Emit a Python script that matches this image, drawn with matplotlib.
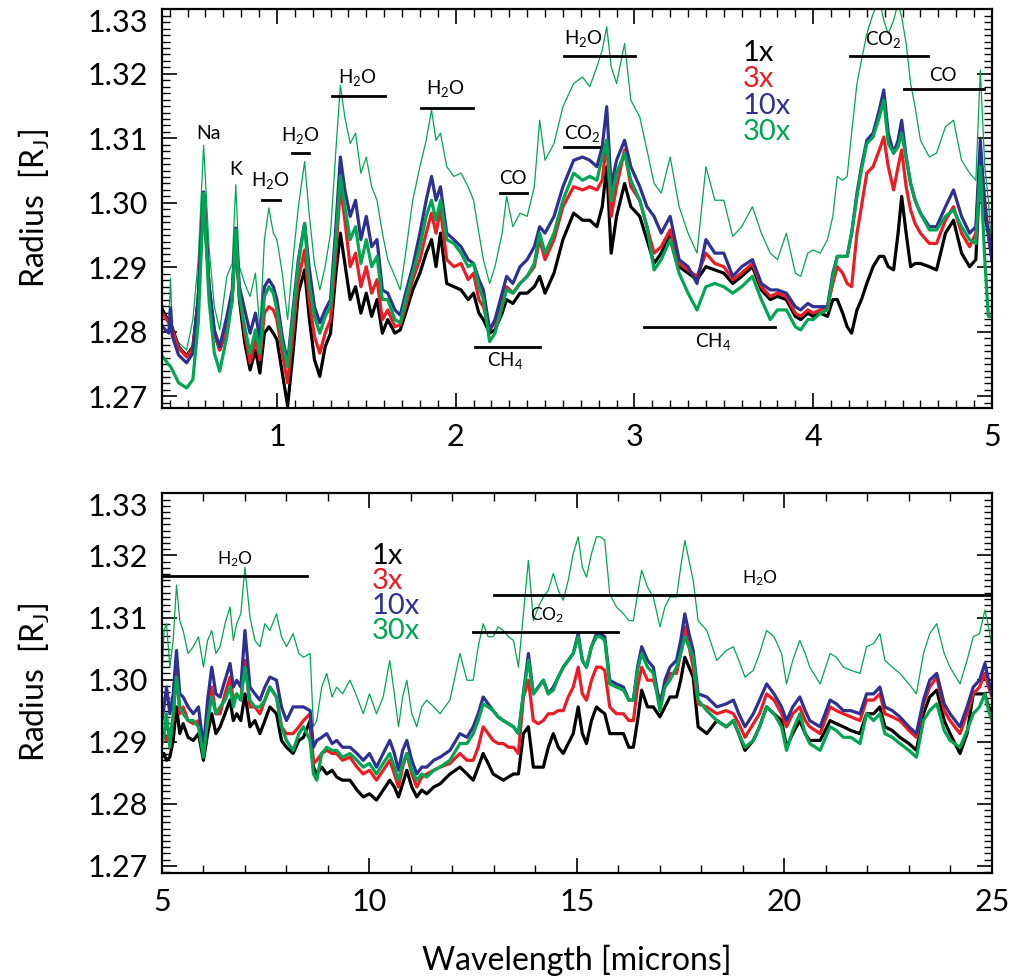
import matplotlib
matplotlib.use("Agg")
import matplotlib.pyplot as plt
from matplotlib.ticker import MultipleLocator, FormatStrFormatter

plt.rcParams['font.family'] = ['Lato', 'DejaVu Sans']
plt.rcParams['mathtext.default'] = 'regular'

# ---- top panel: 0.35 - 5 microns ----
x_top = [0.36, 0.395, 0.405, 0.415, 0.45, 0.495, 0.53, 0.56, 0.59, 0.62,
         0.65, 0.68, 0.72, 0.75, 0.77, 0.79, 0.82, 0.85, 0.88, 0.905,
         0.93, 0.955, 0.98, 1.00, 1.03, 1.06, 1.09, 1.12, 1.155, 1.18,
         1.21, 1.24, 1.27, 1.30, 1.33, 1.355, 1.38, 1.41, 1.44, 1.47,
         1.50, 1.53, 1.56, 1.59, 1.62, 1.66, 1.69, 1.72, 1.76, 1.80,
         1.835, 1.865, 1.89, 1.915, 1.95, 1.99, 2.03, 2.07, 2.10, 2.13,
         2.155, 2.19, 2.22, 2.26, 2.285, 2.32, 2.36, 2.40, 2.44, 2.47,
         2.50, 2.55, 2.60, 2.66, 2.71, 2.75, 2.79, 2.82, 2.845, 2.87,
         2.90, 2.945, 2.98, 3.03, 3.07, 3.11, 3.15, 3.20, 3.25, 3.30,
         3.35, 3.40, 3.45, 3.50, 3.55, 3.60, 3.66, 3.71, 3.76, 3.80,
         3.85, 3.90, 3.93, 3.97, 4.00, 4.04, 4.08, 4.11, 4.135, 4.165,
         4.19, 4.215, 4.245, 4.27, 4.30, 4.335, 4.37, 4.395, 4.42, 4.45,
         4.475, 4.495, 4.52, 4.545, 4.57, 4.60, 4.65, 4.69, 4.74, 4.785,
         4.83, 4.875, 4.91, 4.935, 4.96, 4.98, 5.00]

k_top = [1.2834, 1.2816, 1.2814, 1.2806, 1.2777, 1.2763, 1.2777, 1.2850, 1.3015, 1.2870,
         1.2798, 1.2772, 1.2803, 1.2850, 1.2953, 1.2850, 1.2783, 1.2741, 1.2772, 1.2736,
         1.2798, 1.2808, 1.2798, 1.2788, 1.2736, 1.2685, 1.2767, 1.2860, 1.2896, 1.2824,
         1.2757, 1.2731, 1.2777, 1.2798, 1.2891, 1.2953, 1.2906, 1.2850, 1.2870, 1.2829,
         1.2860, 1.2824, 1.2850, 1.2798, 1.2819, 1.2798, 1.2803, 1.2829, 1.2865, 1.2891,
         1.2922, 1.2943, 1.2901, 1.2953, 1.2875, 1.2870, 1.2865, 1.2850, 1.2860, 1.2829,
         1.2819, 1.2798, 1.2803, 1.2829, 1.2850, 1.2844, 1.2860, 1.2860, 1.2870, 1.2886,
         1.2860, 1.2891, 1.2943, 1.2984, 1.2973, 1.2973, 1.2963, 1.2994, 1.3056, 1.2922,
         1.2979, 1.3030, 1.2994, 1.2979, 1.2943, 1.2906, 1.2922, 1.2953, 1.2901, 1.2891,
         1.2881, 1.2901, 1.2896, 1.2891, 1.2875, 1.2886, 1.2901, 1.2865, 1.2850, 1.2855,
         1.2850, 1.2824, 1.2819, 1.2829, 1.2824, 1.2829, 1.2824, 1.2850, 1.2850, 1.2829,
         1.2808, 1.2798, 1.2834, 1.2850, 1.2875, 1.2901, 1.2917, 1.2917, 1.2901, 1.2896,
         1.2953, 1.3010, 1.2953, 1.2901, 1.2906, 1.2906, 1.2901, 1.2896, 1.2953, 1.2973,
         1.2922, 1.2901, 1.2912, 1.3066, 1.2979, 1.2953, 1.2912]

r_top = [1.2829, 1.2814, 1.2811, 1.2803, 1.2775, 1.2761, 1.2775, 1.2850, 1.3015, 1.2870,
         1.2798, 1.2772, 1.2806, 1.2855, 1.2953, 1.2860, 1.2798, 1.2752, 1.2788, 1.2757,
         1.2829, 1.2839, 1.2834, 1.2819, 1.2767, 1.2721, 1.2798, 1.2881, 1.2927, 1.2850,
         1.2793, 1.2767, 1.2798, 1.2819, 1.2922, 1.3025, 1.2973, 1.2901, 1.2922, 1.2870,
         1.2901, 1.2860, 1.2881, 1.2819, 1.2834, 1.2808, 1.2811, 1.2839, 1.2881, 1.2912,
         1.2953, 1.2984, 1.2953, 1.2989, 1.2912, 1.2901, 1.2906, 1.2881, 1.2891, 1.2850,
         1.2839, 1.2803, 1.2814, 1.2844, 1.2870, 1.2860, 1.2875, 1.2886, 1.2901, 1.2943,
         1.2912, 1.2943, 1.2994, 1.3025, 1.3020, 1.3025, 1.3020, 1.3035, 1.3097, 1.2979,
         1.3025, 1.3082, 1.3025, 1.3004, 1.2963, 1.2922, 1.2932, 1.2958, 1.2906, 1.2896,
         1.2886, 1.2922, 1.2906, 1.2901, 1.2881, 1.2891, 1.2906, 1.2870, 1.2855, 1.2860,
         1.2855, 1.2829, 1.2824, 1.2834, 1.2829, 1.2834, 1.2839, 1.2875, 1.2901, 1.2891,
         1.2875, 1.2870, 1.2953, 1.2994, 1.3046, 1.3056, 1.3082, 1.3102, 1.3056, 1.3020,
         1.3056, 1.3082, 1.3025, 1.2989, 1.2968, 1.2953, 1.2937, 1.2937, 1.2973, 1.2994,
         1.2953, 1.2932, 1.2953, 1.3077, 1.3004, 1.2953, 1.2912]

b_top = [1.2808, 1.2798, 1.2837, 1.2793, 1.2764, 1.2752, 1.2767, 1.2855, 1.3017, 1.2875,
         1.2803, 1.2777, 1.2824, 1.2865, 1.2961, 1.2870, 1.2834, 1.2798, 1.2829, 1.2788,
         1.2870, 1.2881, 1.2870, 1.2850, 1.2793, 1.2752, 1.2834, 1.2912, 1.2968, 1.2901,
         1.2839, 1.2814, 1.2834, 1.2850, 1.2963, 1.3071, 1.3020, 1.2979, 1.3004, 1.2943,
         1.2979, 1.2932, 1.2943, 1.2865, 1.2860, 1.2834, 1.2826, 1.2860, 1.2901, 1.2953,
         1.3004, 1.3041, 1.3004, 1.3025, 1.2953, 1.2943, 1.2932, 1.2912, 1.2906, 1.2881,
         1.2865, 1.2803, 1.2819, 1.2860, 1.2886, 1.2875, 1.2901, 1.2912, 1.2932, 1.2963,
         1.2953, 1.2979, 1.3025, 1.3066, 1.3071, 1.3066, 1.3056, 1.3087, 1.3149, 1.3025,
         1.3066, 1.3097, 1.3056, 1.3025, 1.2994, 1.2979, 1.2953, 1.2979, 1.2912, 1.2901,
         1.2875, 1.2943, 1.2922, 1.2922, 1.2886, 1.2901, 1.2912, 1.2875, 1.2865, 1.2865,
         1.2860, 1.2839, 1.2834, 1.2844, 1.2839, 1.2839, 1.2839, 1.2891, 1.2917, 1.2917,
         1.2917, 1.2953, 1.3015, 1.3056, 1.3097, 1.3108, 1.3144, 1.3175, 1.3108, 1.3077,
         1.3097, 1.3128, 1.3071, 1.3030, 1.3004, 1.2984, 1.2963, 1.2963, 1.2994, 1.3020,
         1.2979, 1.2953, 1.2963, 1.3097, 1.2994, 1.2953, 1.2912]

g_top = [1.2762, 1.2749, 1.2746, 1.2741, 1.2721, 1.2713, 1.2726, 1.2814, 1.3015, 1.2850,
         1.2767, 1.2739, 1.2793, 1.2850, 1.2958, 1.2855, 1.2808, 1.2767, 1.2803, 1.2767,
         1.2855, 1.2870, 1.2860, 1.2834, 1.2783, 1.2746, 1.2824, 1.2906, 1.2968, 1.2875,
         1.2824, 1.2798, 1.2824, 1.2839, 1.2943, 1.3041, 1.2994, 1.2943, 1.2963, 1.2906,
         1.2943, 1.2901, 1.2917, 1.2850, 1.2850, 1.2819, 1.2814, 1.2850, 1.2891, 1.2932,
         1.2979, 1.3004, 1.2973, 1.3004, 1.2943, 1.2937, 1.2922, 1.2901, 1.2906, 1.2870,
         1.2850, 1.2785, 1.2798, 1.2839, 1.2865, 1.2860, 1.2875, 1.2886, 1.2906, 1.2953,
         1.2922, 1.2953, 1.3004, 1.3046, 1.3035, 1.3041, 1.3035, 1.3071, 1.3097, 1.3004,
         1.3046, 1.3077, 1.3035, 1.3004, 1.2963, 1.2896, 1.2912, 1.2943, 1.2891, 1.2860,
         1.2834, 1.2870, 1.2875, 1.2870, 1.2860, 1.2870, 1.2886, 1.2850, 1.2819, 1.2834,
         1.2834, 1.2808, 1.2803, 1.2819, 1.2819, 1.2829, 1.2834, 1.2886, 1.2917, 1.2917,
         1.2917, 1.2953, 1.3010, 1.3051, 1.3092, 1.3102, 1.3133, 1.3159, 1.3092, 1.3077,
         1.3087, 1.3108, 1.3071, 1.3030, 1.3004, 1.2984, 1.2958, 1.2958, 1.2979, 1.2989,
         1.2963, 1.2943, 1.2937, 1.3056, 1.2912, 1.2824, 1.2824]

# thin green curve
t_top = [1.2837, 1.2811, 1.2883, 1.2798, 1.2783, 1.2772, 1.2819, 1.2912, 1.3089, 1.2932,
         1.2839, 1.2803, 1.2886, 1.2906, 1.3028, 1.2901, 1.2875, 1.2855, 1.2891, 1.2803,
         1.2943, 1.2992, 1.2953, 1.2943, 1.2891, 1.2819, 1.2912, 1.2994, 1.3064, 1.2984,
         1.2906, 1.2865, 1.2901, 1.2953, 1.3082, 1.3182, 1.3133, 1.3092, 1.3108, 1.3046,
         1.3071, 1.3025, 1.3004, 1.2953, 1.2912, 1.2886, 1.2865, 1.2922, 1.3004, 1.3056,
         1.3097, 1.3144, 1.3097, 1.3108, 1.3056, 1.3041, 1.3046, 1.3025, 1.3004, 1.2953,
         1.2912, 1.2875, 1.2901, 1.2953, 1.3010, 1.2963, 1.2984, 1.2979, 1.3025, 1.3128,
         1.3066, 1.3092, 1.3149, 1.3185, 1.3195, 1.3180, 1.3211, 1.3237, 1.3273, 1.3211,
         1.3185, 1.3247, 1.3159, 1.3133, 1.3082, 1.3030, 1.3015, 1.3071, 1.2994, 1.2953,
         1.2922, 1.3056, 1.3004, 1.3004, 1.2948, 1.2963, 1.2994, 1.2953, 1.2922, 1.2912,
         1.2953, 1.2891, 1.2886, 1.2922, 1.2927, 1.2922, 1.2943, 1.2979, 1.3041, 1.3035,
         1.3041, 1.3108, 1.3185, 1.3221, 1.3262, 1.3293, 1.3315, 1.3283, 1.3262, 1.3283,
         1.3310, 1.3288, 1.3247, 1.3185, 1.3149, 1.3097, 1.3071, 1.3077, 1.3118, 1.3128,
         1.3066, 1.3046, 1.3035, 1.3206, 1.3056, 1.3004, 1.2922]

# ---- bottom panel: 5 - 25 microns ----
x_bot = [5.00, 5.05, 5.11, 5.19, 5.27, 5.35, 5.43, 5.51, 5.63, 5.755,
         5.88, 6.00, 6.10, 6.20, 6.30, 6.40, 6.52, 6.64, 6.72, 6.80,
         6.90, 7.00, 7.12, 7.24, 7.36, 7.48, 7.60, 7.76, 7.88, 8.00,
         8.16, 8.30, 8.41, 8.57, 8.65, 8.73, 8.85, 8.97, 9.10, 9.21,
         9.35, 9.53, 9.70, 9.85, 10.00, 10.17, 10.33, 10.49, 10.60, 10.70,
         10.80, 10.90, 11.02, 11.14, 11.26, 11.38, 11.55, 11.70, 11.94, 12.18,
         12.35, 12.50, 12.62, 12.74, 12.86, 12.98, 13.10, 13.225, 13.35, 13.47,
         13.59, 13.71, 13.83, 13.95, 14.07, 14.19, 14.31, 14.43, 14.55, 14.67,
         14.79, 14.91, 15.03, 15.13, 15.23, 15.35, 15.47, 15.57, 15.67, 15.79,
         15.95, 16.12, 16.25, 16.36, 16.46, 16.56, 16.70, 16.84, 17.00, 17.12,
         17.24, 17.40, 17.50, 17.60, 17.70, 17.80, 17.92, 18.13, 18.37, 18.60,
         18.77, 18.90, 19.05, 19.25, 19.40, 19.57, 19.75, 19.93, 20.05, 20.20,
         20.37, 20.50, 20.61, 20.86, 21.10, 21.25, 21.42, 21.60, 21.82, 21.98,
         22.15, 22.30, 22.42, 22.60, 22.78, 23.00, 23.18, 23.35, 23.50, 23.67,
         23.85, 23.99, 24.23, 24.40, 24.55, 24.70, 24.83, 24.92, 25.00]

k_bot = [1.2875, 1.2881, 1.2870, 1.2875, 1.2902, 1.2956, 1.2913, 1.2929, 1.2907, 1.2902,
         1.2913, 1.2870, 1.2913, 1.2945, 1.2913, 1.2924, 1.2945, 1.2967, 1.2934, 1.2945,
         1.2934, 1.2977, 1.2924, 1.2934, 1.2913, 1.2934, 1.2956, 1.2945, 1.2902, 1.2891,
         1.2881, 1.2902, 1.2907, 1.2934, 1.2859, 1.2848, 1.2859, 1.2848, 1.2854, 1.2843,
         1.2838, 1.2838, 1.2822, 1.2811, 1.2816, 1.2806, 1.2822, 1.2838, 1.2827, 1.2811,
         1.2832, 1.2854, 1.2827, 1.2811, 1.2822, 1.2816, 1.2827, 1.2832, 1.2848, 1.2859,
         1.2848, 1.2838, 1.2859, 1.2881, 1.2865, 1.2848, 1.2843, 1.2838, 1.2843, 1.2848,
         1.2848, 1.2913, 1.2924, 1.2859, 1.2859, 1.2859, 1.2891, 1.2913, 1.2891, 1.2881,
         1.2897, 1.2913, 1.2956, 1.2913, 1.2897, 1.2934, 1.2956, 1.2950, 1.2945, 1.2913,
         1.2913, 1.2913, 1.2891, 1.2891, 1.2934, 1.2983, 1.2956, 1.2956, 1.2940, 1.2956,
         1.2972, 1.2972, 1.2999, 1.3036, 1.3020, 1.3004, 1.2924, 1.2913, 1.2934, 1.2924,
         1.2934, 1.2913, 1.2886, 1.2902, 1.2924, 1.2956, 1.2945, 1.2934, 1.2891, 1.2913,
         1.2934, 1.2913, 1.2902, 1.2902, 1.2934, 1.2929, 1.2924, 1.2918, 1.2913, 1.2945,
         1.2945, 1.2956, 1.2924, 1.2918, 1.2907, 1.2897, 1.2886, 1.2945, 1.2972, 1.2983,
         1.2934, 1.2913, 1.2881, 1.2913, 1.2977, 1.2977, 1.2977, 1.2956, 1.2950]

r_bot = [1.2907, 1.2913, 1.2902, 1.2913, 1.2934, 1.3020, 1.2945, 1.2956, 1.2934, 1.2929,
         1.2934, 1.2886, 1.2934, 1.2988, 1.2945, 1.2945, 1.2977, 1.3004, 1.2967, 1.2977,
         1.2967, 1.3031, 1.2956, 1.2956, 1.2945, 1.2967, 1.2988, 1.2972, 1.2924, 1.2913,
         1.2913, 1.2924, 1.2934, 1.2945, 1.2865, 1.2870, 1.2881, 1.2886, 1.2881, 1.2881,
         1.2870, 1.2875, 1.2859, 1.2848, 1.2854, 1.2838, 1.2854, 1.2870, 1.2848, 1.2827,
         1.2859, 1.2881, 1.2848, 1.2827, 1.2843, 1.2848, 1.2854, 1.2859, 1.2865, 1.2881,
         1.2870, 1.2870, 1.2891, 1.2924, 1.2913, 1.2902, 1.2897, 1.2897, 1.2891, 1.2891,
         1.2881, 1.2972, 1.2999, 1.2934, 1.2929, 1.2934, 1.2945, 1.2945, 1.2950, 1.2950,
         1.2972, 1.2988, 1.3020, 1.2977, 1.2967, 1.2999, 1.3020, 1.3020, 1.3015, 1.2956,
         1.2945, 1.2945, 1.2934, 1.2934, 1.2988, 1.3020, 1.2999, 1.2999, 1.2967, 1.2988,
         1.3010, 1.3010, 1.3042, 1.3085, 1.3053, 1.3020, 1.2961, 1.2956, 1.2945, 1.2950,
         1.2945, 1.2929, 1.2907, 1.2929, 1.2945, 1.2977, 1.2967, 1.2945, 1.2924, 1.2945,
         1.2956, 1.2934, 1.2924, 1.2913, 1.2956, 1.2950, 1.2945, 1.2940, 1.2934, 1.2967,
         1.2967, 1.2977, 1.2945, 1.2940, 1.2934, 1.2918, 1.2907, 1.2961, 1.2988, 1.3004,
         1.2950, 1.2934, 1.2913, 1.2945, 1.2977, 1.2988, 1.3010, 1.2988, 1.2972]

b_bot = [1.2934, 1.2956, 1.2988, 1.2945, 1.2977, 1.3047, 1.2977, 1.2972, 1.2956, 1.2945,
         1.2956, 1.2891, 1.2967, 1.3020, 1.2977, 1.2972, 1.2999, 1.3026, 1.2988, 1.2999,
         1.2988, 1.3079, 1.2988, 1.2977, 1.2967, 1.2988, 1.3004, 1.2999, 1.2956, 1.2934,
         1.2956, 1.2956, 1.2956, 1.2950, 1.2891, 1.2902, 1.2907, 1.2913, 1.2897, 1.2902,
         1.2891, 1.2891, 1.2881, 1.2870, 1.2881, 1.2859, 1.2881, 1.2902, 1.2881, 1.2854,
         1.2886, 1.2902, 1.2870, 1.2848, 1.2859, 1.2859, 1.2870, 1.2875, 1.2886, 1.2913,
         1.2907, 1.2924, 1.2945, 1.2972, 1.2961, 1.2950, 1.2940, 1.2934, 1.2929, 1.2924,
         1.2913, 1.2977, 1.3042, 1.2977, 1.2988, 1.2999, 1.2977, 1.2988, 1.3004, 1.3020,
         1.3031, 1.3042, 1.3074, 1.3031, 1.3020, 1.3053, 1.3074, 1.3074, 1.3069, 1.2999,
         1.2993, 1.2988, 1.2967, 1.2967, 1.3020, 1.3053, 1.3031, 1.3020, 1.2956, 1.2999,
         1.3020, 1.3031, 1.3063, 1.3106, 1.3074, 1.3047, 1.2977, 1.2972, 1.2956, 1.2961,
         1.2967, 1.2945, 1.2924, 1.2945, 1.2967, 1.2993, 1.2977, 1.2956, 1.2934, 1.2956,
         1.2972, 1.2950, 1.2934, 1.2924, 1.2967, 1.2961, 1.2950, 1.2950, 1.2945, 1.2977,
         1.2977, 1.2988, 1.2956, 1.2950, 1.2940, 1.2924, 1.2913, 1.2967, 1.2999, 1.3010,
         1.2961, 1.2945, 1.2924, 1.2956, 1.2988, 1.2999, 1.3026, 1.2999, 1.2977]

g_bot = [1.2897, 1.2913, 1.2945, 1.2891, 1.2945, 1.3004, 1.2956, 1.2945, 1.2934, 1.2934,
         1.2924, 1.2875, 1.2934, 1.2972, 1.2945, 1.2956, 1.2967, 1.2988, 1.2956, 1.2977,
         1.2967, 1.3020, 1.2967, 1.2956, 1.2956, 1.2967, 1.2988, 1.2972, 1.2924, 1.2902,
         1.2886, 1.2913, 1.2924, 1.2902, 1.2848, 1.2838, 1.2881, 1.2891, 1.2886, 1.2886,
         1.2875, 1.2881, 1.2870, 1.2859, 1.2865, 1.2848, 1.2865, 1.2881, 1.2859, 1.2838,
         1.2865, 1.2881, 1.2854, 1.2838, 1.2848, 1.2843, 1.2854, 1.2859, 1.2870, 1.2897,
         1.2897, 1.2913, 1.2934, 1.2961, 1.2956, 1.2950, 1.2940, 1.2934, 1.2929, 1.2924,
         1.2913, 1.2977, 1.3031, 1.2977, 1.2988, 1.2999, 1.2977, 1.2983, 1.3004, 1.3020,
         1.3031, 1.3042, 1.3069, 1.3031, 1.3020, 1.3053, 1.3069, 1.3069, 1.3063, 1.2993,
         1.2988, 1.2983, 1.2967, 1.2967, 1.3015, 1.3042, 1.3020, 1.3010, 1.2950, 1.2988,
         1.2999, 1.3020, 1.3042, 1.3069, 1.3053, 1.3036, 1.2967, 1.2950, 1.2934, 1.2924,
         1.2934, 1.2913, 1.2891, 1.2902, 1.2924, 1.2956, 1.2945, 1.2924, 1.2886, 1.2918,
         1.2945, 1.2913, 1.2897, 1.2886, 1.2924, 1.2918, 1.2907, 1.2907, 1.2897, 1.2945,
         1.2934, 1.2945, 1.2913, 1.2907, 1.2897, 1.2886, 1.2875, 1.2934, 1.2950, 1.2961,
         1.2918, 1.2902, 1.2891, 1.2918, 1.2945, 1.2956, 1.2977, 1.2950, 1.2934]

t_bot = [1.3004, 1.3079, 1.3090, 1.3020, 1.3063, 1.3152, 1.3095, 1.3079, 1.3042, 1.3053,
         1.3069, 1.3020, 1.3063, 1.3079, 1.3042, 1.3053, 1.3090, 1.3117, 1.3063, 1.3090,
         1.3106, 1.3181, 1.3101, 1.3063, 1.3053, 1.3090, 1.3079, 1.3106, 1.3069, 1.3053,
         1.3074, 1.3042, 1.3036, 1.3042, 1.2924, 1.2934, 1.2988, 1.3010, 1.2972, 1.2988,
         1.2977, 1.2999, 1.2972, 1.2945, 1.2977, 1.2945, 1.2972, 1.3031, 1.2977, 1.2924,
         1.2972, 1.2999, 1.2945, 1.2924, 1.2956, 1.2967, 1.2956, 1.2945, 1.2967, 1.3042,
         1.2999, 1.2999, 1.3053, 1.3090, 1.3069, 1.3069, 1.3085, 1.3079, 1.3069, 1.3063,
         1.3020, 1.3106, 1.3192, 1.3095, 1.3117, 1.3133, 1.3144, 1.3171, 1.3144, 1.3128,
         1.3160, 1.3203, 1.3230, 1.3181, 1.3165, 1.3203, 1.3230, 1.3230, 1.3224, 1.3138,
         1.3117, 1.3106, 1.3095, 1.3095, 1.3138, 1.3176, 1.3149, 1.3133, 1.3085, 1.3117,
         1.3133, 1.3133, 1.3181, 1.3224, 1.3192, 1.3160, 1.3095, 1.3079, 1.3031, 1.3047,
         1.3053, 1.3031, 1.3004, 1.3015, 1.3042, 1.3079, 1.3069, 1.3042, 1.2993, 1.3031,
         1.3063, 1.3042, 1.3020, 1.2993, 1.3042, 1.3036, 1.3020, 1.3015, 1.3010, 1.3053,
         1.3058, 1.3074, 1.3031, 1.3020, 1.3010, 1.2993, 1.2977, 1.3042, 1.3074, 1.3090,
         1.3042, 1.3020, 1.2993, 1.3031, 1.3069, 1.3074, 1.3112, 1.3085, 1.3053]

# molecule labels: text, x0, x1, y of bar, text x, text y
feat_top = [
    ("H$_2$O", 0.914, 1.017, 1.3005, 0.961, 1.3035),
    ("H$_2$O", 1.084, 1.180, 1.3077, 1.129, 1.3105),
    ("H$_2$O", 1.306, 1.604, 1.3166, 1.448, 1.3194),
    ("H$_2$O", 1.806, 2.097, 1.3147, 1.940, 1.3178),
    ("CO", 2.248, 2.399, 1.3016, 2.320, 1.3037),
    ("CH$_4$", 2.108, 2.471, 1.2777, 2.276, 1.2755),
    ("H$_2$O", 2.606, 3.003, 1.3227, 2.712, 1.3255),
    ("CO$_2$", 2.606, 2.803, 1.3087, 2.706, 1.3107),
    ("CH$_4$", 3.053, 3.786, 1.2808, 3.439, 1.2785),
    ("CO$_2$", 4.206, 4.642, 1.3227, 4.390, 1.3253),
    ("CO", 4.508, 4.955, 1.3177, 4.726, 1.3198),
]
atoms_top = [("Na", 0.620, 1.3108), ("K", 0.771, 1.3051)]
feat_bot = [
    ("H$_2$O", 5.0, 8.49, 1.3167, 6.76, 1.3194),
    ("H$_2$O", 13.0, 25.0, 1.3137, 19.41, 1.3164),
    ("CO$_2$", 12.49, 15.99, 1.3077, 14.28, 1.3103),
]

labels = ["1x", "3x", "10x", "30x"]
BLACK, RED, BLUE, GREEN = "black", "#ec1c24", "#2e3192", "#00a651"
colors = [BLACK, RED, BLUE, GREEN]

fig = plt.figure(figsize=(10.18, 9.8), dpi=100)
ax1 = fig.add_axes([0.1591, 0.5837, 0.8153, 0.4068])
ax2 = fig.add_axes([0.1591, 0.1095, 0.8153, 0.3871])

panels = [
    (ax1, x_top, [k_top, r_top, b_top, g_top], t_top, (0.357, 5.0), (1.2682, 1.33),
     1, 0.1, feat_top, 13.5, (0.700, 0.890)),
    (ax2, x_bot, [k_bot, r_bot, b_bot, g_bot], t_bot, (5.0, 25.0), (1.2689, 1.33),
     5, 1, feat_bot, 12.5, (0.253, 0.835)),
]

yt = [1.27, 1.28, 1.29, 1.30, 1.31, 1.32, 1.33]

for ax, x, thick, thin, xl, yl, xmaj, xmin, feats, fs, leg in panels:
    ax.plot(x, thin, color=GREEN, lw=0.9)
    for y, c in zip(thick, colors):
        ax.plot(x, y, color=c, lw=2.3)
    for name, x0, x1, yb, tx, ty in feats:
        ax.plot([x0, x1], [yb, yb], color="black", lw=2.0)
        ax.text(tx, ty, name, fontsize=fs, ha="center", va="center")
    for i, (lab, c) in enumerate(zip(labels, colors)):
        ax.text(leg[0], leg[1] - i * 0.066, lab, color=c, fontsize=21,
                transform=ax.transAxes, ha="left", va="center")
    ax.set_xlim(*xl)
    ax.set_ylim(*yl)
    ax.xaxis.set_major_locator(MultipleLocator(xmaj))
    ax.xaxis.set_minor_locator(MultipleLocator(xmin))
    ax.set_yticks(yt)
    ax.yaxis.set_minor_locator(MultipleLocator(0.001))
    ax.yaxis.set_major_formatter(FormatStrFormatter("%.2f"))
    ax.tick_params(which="both", direction="in", top=True, right=True, labelsize=22)
    ax.tick_params(which="major", length=11, width=1.2)
    ax.tick_params(which="minor", length=5.5, width=1.0)
    ax.tick_params(axis="x", pad=11)
    ax.tick_params(axis="y", pad=10)
    for s in ax.spines.values():
        s.set_linewidth(1.6)
    ax.set_ylabel("Radius  [R$_J$]", fontsize=23)
    ax.yaxis.set_label_coords(-0.133, 0.5)
    # top tick label sits just below the axis top, as in the original
    ax.yaxis.get_major_ticks()[-1].label1.set_verticalalignment("top")

for name, tx, ty in atoms_top:
    ax1.text(tx, ty, name, fontsize=14, ha="center", va="center")

ax2.set_xlabel("Wavelength [microns]", fontsize=23)
ax2.xaxis.set_label_coords(0.5, -0.19)

fig.savefig("out.png", dpi=100)
